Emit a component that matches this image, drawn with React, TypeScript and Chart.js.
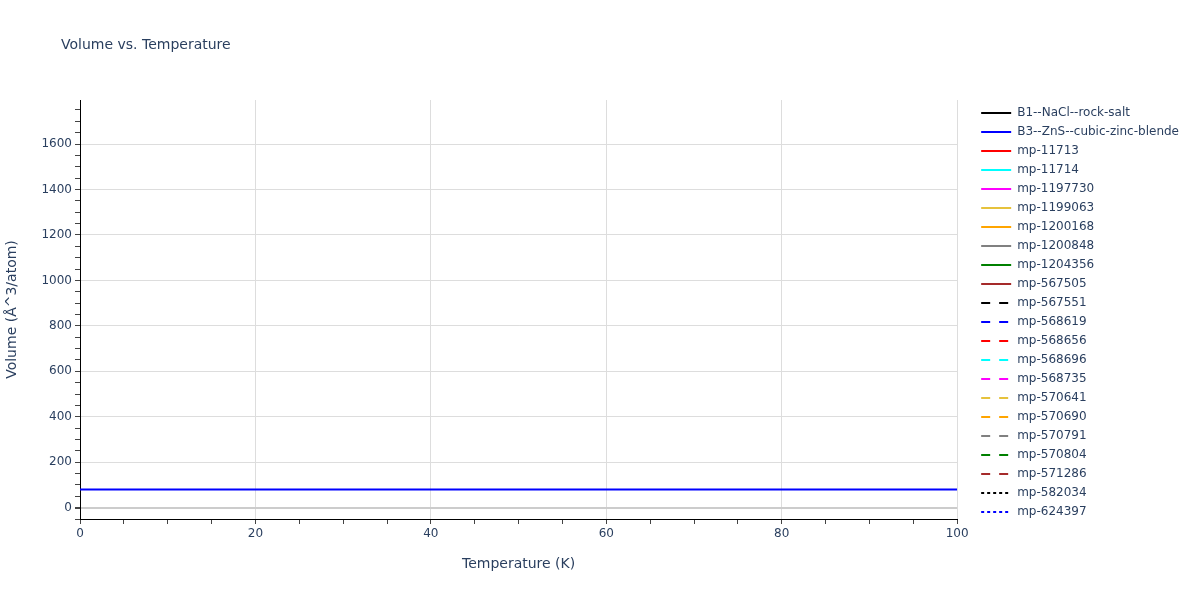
import { useEffect, useRef } from 'react';
import { Chart, ChartConfiguration, registerables } from 'chart.js';

Chart.register(...registerables);

// temperatures (K) sampled along the curves
const temperatures = [0, 100];

const seriesNames = [
  'B1--NaCl--rock-salt',
  'B3--ZnS--cubic-zinc-blende',
  'mp-11713',
  'mp-11714',
  'mp-1197730',
  'mp-1199063',
  'mp-1200168',
  'mp-1200848',
  'mp-1204356',
  'mp-567505',
  'mp-567551',
  'mp-568619',
  'mp-568656',
  'mp-568696',
  'mp-568735',
  'mp-570641',
  'mp-570690',
  'mp-570791',
  'mp-570804',
  'mp-571286',
  'mp-582034',
  'mp-624397',
];

// volume (Å^3/atom) of each series over the window; null = no curve visible
const seriesVolumes: (number | null)[] = [
  null, 79.5, null, null, null, null, null, null, null, null, null,
  null, null, null, null, null, null, null, null, null, null, null,
];

const seriesColors = [
  'black', 'blue', 'red', 'cyan', 'magenta', 'rgb(230,194,60)', 'orange', 'gray', 'green', 'brown',
  'black', 'blue', 'red', 'cyan', 'magenta', 'rgb(230,194,60)', 'orange', 'gray', 'green', 'brown',
  'black', 'blue',
];

const seriesDash = [
  'solid', 'solid', 'solid', 'solid', 'solid', 'solid', 'solid', 'solid', 'solid', 'solid',
  'dash', 'dash', 'dash', 'dash', 'dash', 'dash', 'dash', 'dash', 'dash', 'dash',
  'dot', 'dot',
];

const yTickValues = [0, 200, 400, 600, 800, 1000, 1200, 1400, 1600];
const xTickValues = [0, 20, 40, 60, 80, 100];

const FONT = '"DejaVu Sans", verdana, arial, sans-serif';
const TEXT = '#2a3f5f';

const dashPattern = (d: string) => (d === 'dash' ? [9, 9] : d === 'dot' ? [3, 3] : []);

const titlePlugin = {
  id: 'plotTitle',
  afterDraw(chart: Chart) {
    const ctx = chart.ctx;
    ctx.save();
    ctx.font = `14px ${FONT}`;
    ctx.fillStyle = TEXT;
    ctx.textBaseline = 'middle';
    ctx.fillText('Volume vs. Temperature', 61, 45);
    ctx.restore();
  },
};

// the legend underestimates its width with wide line samples, so widen it
const legendWidthPlugin = {
  id: 'legendWidth',
  beforeLayout(chart: Chart) {
    const legend = (chart as any).legend;
    if (legend && !legend._widened) {
      const fit = legend.fit.bind(legend);
      legend.fit = () => {
        fit();
        legend.width += 20;
      };
      legend._widened = true;
    }
  },
};

export default function App() {
  const canvasRef = useRef<HTMLCanvasElement>(null);
  const chartRef = useRef<Chart>();

  useEffect(() => {
    if (!canvasRef.current) return;
    const ctx = canvasRef.current.getContext('2d');
    if (!ctx) return;

    chartRef.current?.destroy();

    const config: ChartConfiguration = {
      type: 'line',
      data: {
        datasets: seriesNames.map((name, i) => ({
          label: name,
          data: temperatures.map(t => ({ x: t, y: seriesVolumes[i] })),
          borderColor: seriesColors[i],
          backgroundColor: seriesColors[i],
          borderDash: dashPattern(seriesDash[i]),
          borderWidth: 2,
          pointRadius: 0,
          fill: false,
        })),
      },
      options: {
        animation: false,
        responsive: true,
        maintainAspectRatio: false,
        layout: { padding: { top: 100, bottom: 23, left: 0, right: 7 } },
        plugins: {
          legend: {
            position: 'right',
            align: 'start',
            labels: {
              usePointStyle: true,
              pointStyle: 'line',
              pointStyleWidth: 30,
              boxHeight: 2,
              padding: 7,
              color: TEXT,
              font: { family: FONT, size: 12 },
              generateLabels: chart =>
                Chart.defaults.plugins.legend.labels.generateLabels(chart).map(item => {
                  const i = item.datasetIndex ?? 0;
                  return {
                    ...item,
                    strokeStyle: seriesColors[i],
                    lineDash: dashPattern(seriesDash[i]),
                    lineWidth: 2,
                  };
                }),
            },
          },
          tooltip: { enabled: false },
        },
        scales: {
          x: {
            type: 'linear',
            min: 0,
            max: 100,
            afterBuildTicks: scale => {
              const ticks = [];
              for (let v = 0; v <= 100; v += 5) ticks.push({ value: v });
              scale.ticks = ticks;
            },
            afterFit: scale => {
              scale.height = 58;
            },
            grid: {
              color: c => (xTickValues.includes(c.tick?.value) && c.tick?.value !== 0 ? '#dddddd' : 'rgba(0,0,0,0)'),
              tickColor: '#444',
              tickLength: 5,
              lineWidth: 1,
            },
            border: { color: '#000', width: 1 },
            ticks: {
              autoSkip: false,
              maxRotation: 0,
              padding: 3,
              color: TEXT,
              font: { family: FONT, size: 12 },
              callback: v => (xTickValues.includes(Number(v)) ? String(v) : ''),
            },
            title: {
              display: true,
              text: 'Temperature (K)',
              color: TEXT,
              font: { family: FONT, size: 14 },
            },
          },
          y: {
            type: 'linear',
            min: -50,
            max: 1794,
            afterBuildTicks: scale => {
              const ticks = [];
              for (let v = -50; v <= 1750; v += 50) ticks.push({ value: v });
              scale.ticks = ticks;
            },
            afterFit: scale => {
              scale.width = 80;
            },
            grid: {
              color: c => (c.tick?.value === 0 ? '#cccccc' : yTickValues.includes(c.tick?.value) ? '#dddddd' : 'rgba(0,0,0,0)'),
              lineWidth: c => (c.tick?.value === 0 ? 2 : 1),
              tickColor: '#444',
              tickLength: 5,
            },
            border: { color: '#000', width: 1 },
            ticks: {
              autoSkip: false,
              padding: 3,
              color: TEXT,
              font: { family: FONT, size: 12 },
              callback: v => (yTickValues.includes(Number(v)) ? String(v) : ''),
            },
            title: {
              display: true,
              text: 'Volume (Å^3/atom)',
              color: TEXT,
              font: { family: FONT, size: 14 },
            },
          },
          gap: {
            type: 'linear',
            position: 'right',
            display: true,
            grid: { display: false },
            border: { display: false },
            ticks: { display: false },
            afterFit: scale => {
              scale.width = 17;
            },
          },
        },
      },
      plugins: [titlePlugin, legendWidthPlugin],
    };

    chartRef.current = new Chart(ctx, config);

    return () => {
      chartRef.current?.destroy();
    };
  }, []);

  return (
    <div style={{ position: 'fixed', left: 0, top: 0, width: 1200, height: 600, background: '#fff' }}>
      <canvas ref={canvasRef} />
    </div>
  );
}
